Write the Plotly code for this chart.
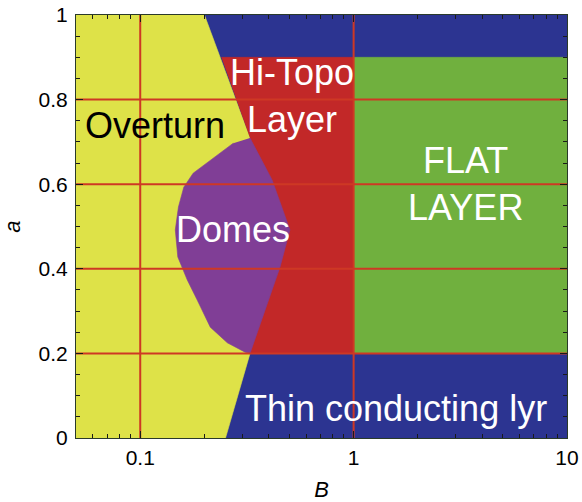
import math
import plotly.graph_objects as go

# Axis extent
B_RANGE = [0.05, 10]
A_RANGE = [0.0, 1.0]

# Regime boundaries in (B, a)
overturn_B = [0.05, 0.251, 0.327, 0.327, 0.20, 0.05]
overturn_a = [0.0, 0.0, 0.2, 0.709, 1.0, 1.0]

hitopo_B = [0.24, 1.0, 1.0, 0.327, 0.327]
hitopo_a = [0.9, 0.9, 0.2, 0.2, 0.709]

flat_B = [1.0, 10.0, 10.0, 1.0]
flat_a = [0.2, 0.2, 0.9, 0.9]

thin_bottom_B = [0.251, 10.0, 10.0, 0.327]
thin_bottom_a = [0.0, 0.0, 0.2, 0.2]
thin_top_B = [0.20, 10.0, 10.0, 0.24]
thin_top_a = [1.0, 1.0, 0.9, 0.9]

domes_B = [0.327, 0.415, 0.503, 0.452, 0.327, 0.31, 0.256, 0.213, 0.185,
           0.166, 0.150, 0.146, 0.151, 0.160, 0.177, 0.273]
domes_a = [0.709, 0.61, 0.492, 0.404, 0.2, 0.203, 0.225, 0.262, 0.326,
           0.374, 0.428, 0.492, 0.546, 0.593, 0.626, 0.697]

# Grid positions
grid_B = [0.1, 1.0]
grid_a = [0.2, 0.4, 0.6, 0.8]

x_tickvals = [0.1, 1, 10]
x_ticktext = ["0.1", "1", "10"]
x_minor = [0.06, 0.07, 0.08, 0.09, 0.2, 0.3, 0.4, 0.5, 0.6, 0.7, 0.8, 0.9,
           2, 3, 4, 5, 6, 7, 8, 9]

YELLOW = "rgb(222,226,72)"
RED = "rgb(194,40,40)"
PURPLE = "rgb(128,62,150)"
GREEN = "rgb(112,176,62)"
BLUE = "rgb(44,52,145)"
GRID = "rgb(206,56,36)"

fig = go.Figure()


def region(xs, ys, color):
    fig.add_trace(go.Scatter(
        x=xs, y=ys, fill="toself", fillcolor=color, mode="lines",
        line=dict(width=0.6, color=color), hoverinfo="skip", showlegend=False))


region(thin_bottom_B, thin_bottom_a, BLUE)
region(thin_top_B, thin_top_a, BLUE)
region(overturn_B, overturn_a, YELLOW)
region(hitopo_B, hitopo_a, RED)
region(flat_B, flat_a, GREEN)
region(domes_B, domes_a, PURPLE)

for b in grid_B:
    fig.add_trace(go.Scatter(x=[b, b], y=A_RANGE, mode="lines",
                             line=dict(color=GRID, width=2),
                             hoverinfo="skip", showlegend=False))
for a in grid_a:
    fig.add_trace(go.Scatter(x=B_RANGE, y=[a, a], mode="lines",
                             line=dict(color=GRID, width=2),
                             hoverinfo="skip", showlegend=False))

LABEL_FONT = "Liberation Sans, Arial, sans-serif"
labels = [
    ("Overturn", 0.117, 0.738, "black"),
    ("Hi-Topo<br>Layer", 0.516, 0.808, "white"),
    ("Domes", 0.272, 0.494, "white"),
    ("FLAT<br>LAYER", 3.33, 0.600, "white"),
    ("Thin conducting lyr", 1.586, 0.070, "white"),
]
for text, bx, ay, col in labels:
    fig.add_annotation(x=math.log10(bx), y=ay, text=text, showarrow=False,
                       xanchor="center", yanchor="middle",
                       font=dict(family=LABEL_FONT, size=36, color=col))

axis_common = dict(
    showgrid=False, zeroline=False, showline=True, linecolor="#2a3a2a",
    linewidth=1, mirror="ticks", ticks="inside", ticklen=7, tickwidth=1,
    tickcolor="#1a1a1a", layer="above traces", automargin=False,
    tickfont=dict(family=LABEL_FONT, size=21, color="black"),
)

fig.update_xaxes(
    type="log", range=[math.log10(B_RANGE[0]), math.log10(B_RANGE[1])],
    tickmode="array", tickvals=x_tickvals, ticktext=x_ticktext,
    ticklabelstandoff=1,
    minor=dict(ticks="inside", ticklen=4, tickvals=x_minor,
               tickcolor="#1a1a1a", showgrid=False),
    title=dict(text="<i>B</i>", standoff=16,
               font=dict(family=LABEL_FONT, size=22, color="black")),
    **axis_common)
fig.update_yaxes(
    range=A_RANGE, tickmode="linear", tick0=0, dtick=0.2,
    ticklabelstandoff=3,
    minor=dict(ticks="inside", ticklen=4, dtick=0.05,
               tickcolor="#1a1a1a", showgrid=False),
    title=dict(text="<i>a</i>", standoff=14,
               font=dict(family=LABEL_FONT, size=22, color="black")),
    **axis_common)

fig.update_layout(
    width=582, height=502,
    margin=dict(l=76, r=15, t=15, b=64),
    paper_bgcolor="white", plot_bgcolor=BLUE,
    showlegend=False,
)

fig.write_html("out.html")
